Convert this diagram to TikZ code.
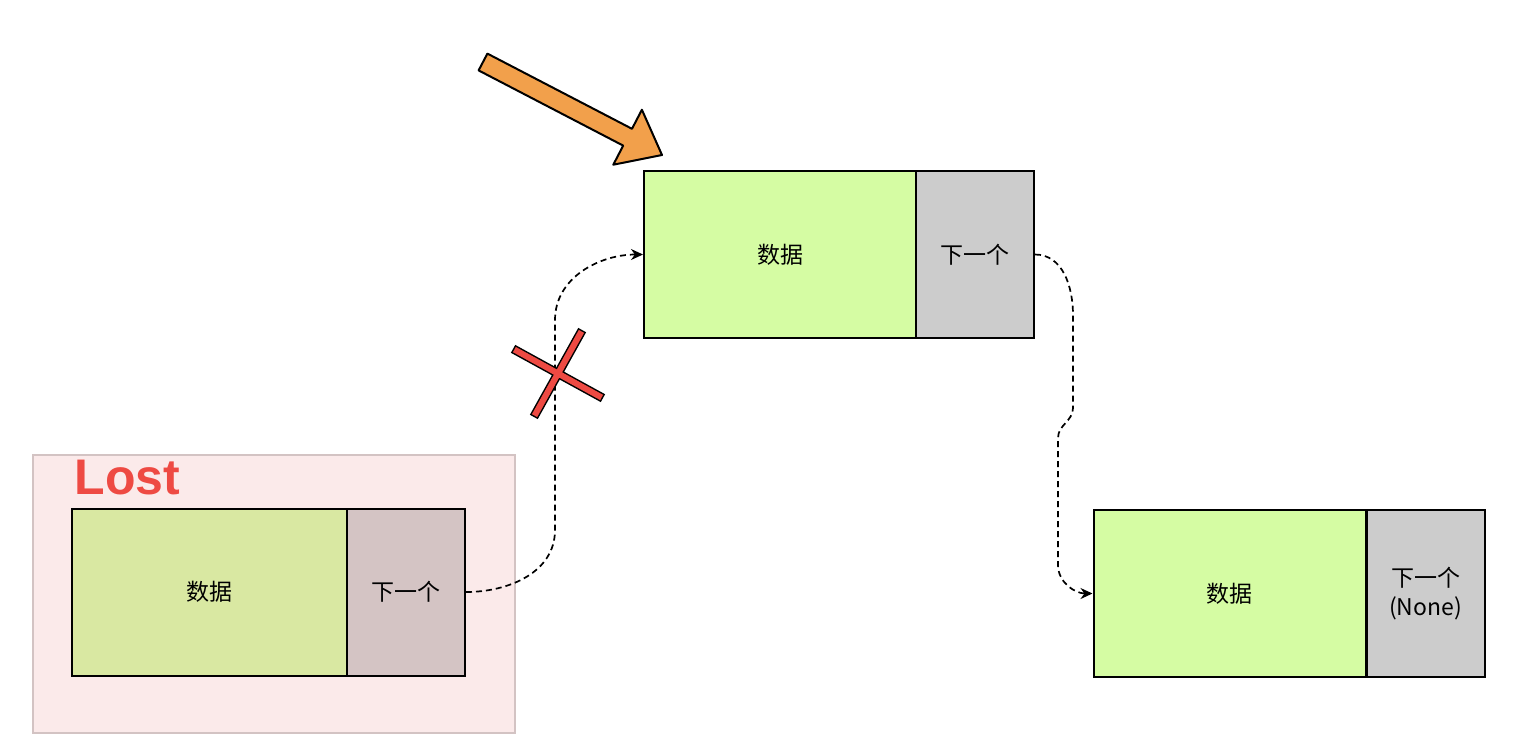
\documentclass[tikz,border=0pt]{standalone}
\usepackage{fontspec}
\setmainfont{Noto Sans CJK SC}
\newfontfamily\lostfont{Liberation Sans}
\usepackage{tikz}
\usetikzlibrary{arrows.meta}

\definecolor{nodegreen}{HTML}{D5FCA3}
\definecolor{nodegray}{HTML}{CCCCCC}
\definecolor{lostgreen}{HTML}{D9E8A2}
\definecolor{lostgray}{HTML}{D4C4C4}
\definecolor{lostpink}{HTML}{FBEAEA}
\definecolor{lostedge}{HTML}{D3C3C3}
\definecolor{lostred}{HTML}{EE4A43}
\definecolor{arroworange}{HTML}{F2A04B}

\begin{document}
\begin{tikzpicture}
  [x=0.5pt,y=-0.5pt,
   every node/.style={draw,line width=1pt,inner sep=0pt,font=\fontsize{11.5}{14.5}\selectfont},
   databox/.style={minimum width=136pt,minimum height=83.5pt,fill=nodegreen},
   nextbox/.style={minimum width=59pt,minimum height=83.5pt,fill=nodegray},
   link/.style={line width=0.85pt,dash pattern=on 3pt off 2pt,-{Stealth[length=6pt,width=5.5pt]}}]
  \useasboundingbox (0,0) rectangle (1538,752);

  % the node that gets lost
  \fill[lostpink,draw=lostedge,line width=0.75pt] (33,455) rectangle (515,733);
  \node[draw=none,text=lostred,font=\lostfont\bfseries\fontsize{25}{25}\selectfont] (lost) at (127.5,478) {Lost};
  \node[databox,fill=lostgreen,minimum width=137.5pt] (d0) at (209.5,592) {数据};
  \node[nextbox,fill=lostgray] (n0) at (406,592) {下一个};

  \node[databox] (d1) at (780,254.5) {数据};
  \node[nextbox] (n1) at (975,254.5) {下一个};
  \node[databox] (d2) at (1229.5,593.5) {数据};
  \node[nextbox,align=center] (n2) at (1425.5,593.5) {下一个\\(None)};

  \coordinate (a1) at (555,530);
  \coordinate (a2) at (555,320);
  \draw[link] (n0.east) to[out=0,in=-90] (a1) -- (a2) to[out=90,in=180] (d1.west);

  \coordinate (b1) at (1073,315);
  \coordinate (b2) at (1073,408);
  \coordinate (b3) at (1058,438);
  \coordinate (b4) at (1058,565);
  \draw[link] (n1.east) to[out=0,in=90] (b1) -- (b2) to[out=-90,in=90] (b3) -- (b4) to[out=-90,in=180] (d2.west);

  % the cross
  \coordinate (x1) at (517,351);
  \coordinate (x2) at (599,396);
  \coordinate (x3) at (580,334);
  \coordinate (x4) at (536,413);
  \foreach \c/\w in {black/4.5pt,lostred/3pt}
    \draw[\c,line width=\w,line cap=rect] (x1) -- (x2) (x3) -- (x4);

  % head pointer
  \draw[fill=arroworange,line width=1pt,line join=round]
    (478.6,70.4) -- (487.4,53.6) -- (632.0,128.8) -- (641.9,109.7)
    -- (662,155) -- (613.3,164.7) -- (623.2,145.6) -- cycle;

\end{tikzpicture}
\end{document}
